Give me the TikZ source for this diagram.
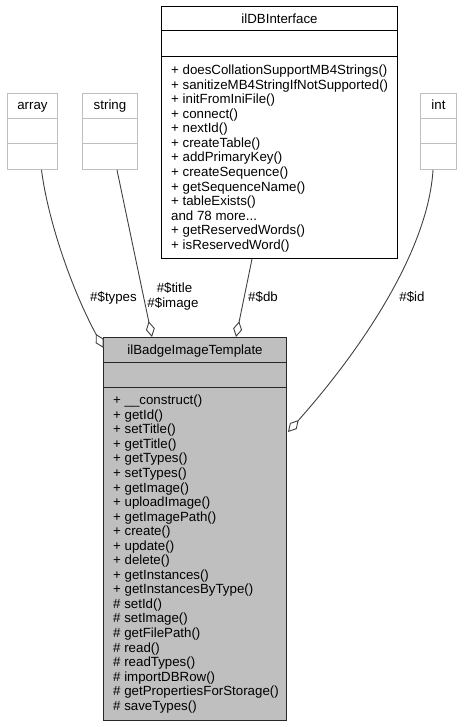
\documentclass[tikz,border=0pt]{standalone}
\usepackage{fontspec}
\setmainfont{Liberation Sans}
\usetikzlibrary{arrows.meta,calc}
\definecolor{edgec}{HTML}{404040}
\definecolor{boxgray}{HTML}{BFBFBF}
\definecolor{mainborder}{HTML}{282828}
\tikzset{
  clsbox/.style={draw=black, fill=white, line width=1pt, inner sep=0pt, anchor=north west},
  undoc/.style={clsbox, draw=boxgray},
  mainbox/.style={clsbox, draw=mainborder, fill=boxgray},
  divline/.style={line width=1pt, draw=black},
  txt/.style={font=\fontsize{13.3}{14.55}\selectfont, inner sep=0pt, text=black},
  lbl/.style={txt},
  assoc/.style={draw=edgec, line width=0.9pt, -{Diamond[open, fill=white, length=16pt, width=9pt]}}
}
\newcommand{\moredots}{and 78 more...}
\begin{document}
\begin{tikzpicture}[x=1pt, y=-1pt]
\useasboundingbox (0,0) rectangle (465,727);

% ---- undocumented type boxes ----
\node[undoc, minimum width=50pt, minimum height=76pt] (arr) at (7,93) {};
\draw[divline, draw=boxgray] ($(arr.north west)+(0,25.5)$) -- ($(arr.north east)+(0,25.5)$);
\draw[divline, draw=boxgray] ($(arr.north west)+(0,51)$) -- ($(arr.north east)+(0,51)$);
\node[txt, anchor=base] (arrT) at ($(arr.north)+(0,17)$) {array};

\node[undoc, minimum width=55pt, minimum height=76pt] (str) at (82,93) {};
\draw[divline, draw=boxgray] ($(str.north west)+(0,25.5)$) -- ($(str.north east)+(0,25.5)$);
\draw[divline, draw=boxgray] ($(str.north west)+(0,51)$) -- ($(str.north east)+(0,51)$);
\node[txt, anchor=base] (strT) at ($(str.north)+(0,17)$) {string};

\node[undoc, minimum width=36pt, minimum height=76pt] (int) at (420,93) {};
\draw[divline, draw=boxgray] ($(int.north west)+(0,25.5)$) -- ($(int.north east)+(0,25.5)$);
\draw[divline, draw=boxgray] ($(int.north west)+(0,51)$) -- ($(int.north east)+(0,51)$);
\node[txt, anchor=base] (intT) at ($(int.north)+(0,17)$) {int};

% ---- ilDBInterface ----
\node[clsbox, minimum width=236pt, minimum height=252pt] (db) at (161,6) {};
\draw[divline] ($(db.north west)+(0,25)$) -- ($(db.north east)+(0,25)$);
\draw[divline] ($(db.north west)+(0,51)$) -- ($(db.north east)+(0,51)$);
\node[txt, anchor=base] (dbT) at ($(db.north)+(0,17.2)$) {ilDBInterface};
\foreach \t [count=\i from 0] in {%
  + doesCollationSupportMB4Strings(),
  + sanitizeMB4StringIfNotSupported(),
  + initFromIniFile(),
  + connect(),
  + nextId(),
  + createTable(),
  + addPrimaryKey(),
  + createSequence(),
  + getSequenceName(),
  + tableExists(),
  \moredots,
  + getReservedWords(),
  + isReservedWord()}
  \node[txt, anchor=base west] (dbm\i) at ($(db.north west)+(10,68.7+14.55*\i)$) {\t};

% ---- ilBadgeImageTemplate ----
\node[mainbox, minimum width=183pt, minimum height=383pt] (main) at (103,337) {};
\draw[divline, draw=mainborder] ($(main.north west)+(0,25)$) -- ($(main.north east)+(0,25)$);
\draw[divline, draw=mainborder] ($(main.north west)+(0,50)$) -- ($(main.north east)+(0,50)$);
\node[txt, anchor=base] (mainT) at ($(main.north)+(0,17.2)$) {ilBadgeImageTemplate};
\foreach \t [count=\i from 0] in {%
  + \_\_construct(),
  + getId(),
  + setTitle(),
  + getTitle(),
  + getTypes(),
  + setTypes(),
  + getImage(),
  + uploadImage(),
  + getImagePath(),
  + create(),
  + update(),
  + delete(),
  + getInstances(),
  + getInstancesByType(),
  \# setId(),
  \# setImage(),
  \# getFilePath(),
  \# read(),
  \# readTypes(),
  \# importDBRow(),
  \# getPropertiesForStorage(),
  \# saveTypes()}
  \node[txt, anchor=base west] (mm\i) at ($(main.north west)+(10,67.7+14.55*\i)$) {\t};

% ---- connection points ----
\coordinate (arrOut) at ($(arr.south west)+(34.5,0)$);
\coordinate (strOut) at ($(str.south west)+(35,0)$);
\coordinate (dbOut)  at ($(db.south west)+(91,0)$);
\coordinate (intOut) at ($(int.south west)+(13,0)$);
\coordinate (inTypes) at ($(main.north west)+(0.5,11)$);
\coordinate (inTitle) at ($(main.north west)+(49,0)$);
\coordinate (inDb)    at ($(main.north west)+(133,0)$);
\coordinate (inId)    at ($(main.north east)+(1,95)$);

% ---- associations ----
\draw[assoc] (arrOut) .. controls +(6.5,51) and +(-31.5,-58) .. (inTypes);
\draw[assoc] (strOut) -- (inTitle);
\draw[assoc] (dbOut) -- (inDb);
\draw[assoc] (intOut) .. controls +(-5,81) and +(73,-82) .. (inId);

% ---- labels ----
\node[lbl, anchor=base] (lTypes) at (113.5,301.7) {\#\$types};
\node[lbl, anchor=base] (lTitle) at (174.5,292.7) {\#\$title};
\node[lbl, anchor=base] (lImage) at (173,307.7) {\#\$image};
\node[lbl, anchor=base] (lDb) at (263,301.7) {\#\$db};
\node[lbl, anchor=base] (lId) at (412,301.7) {\#\$id};
\end{tikzpicture}
\end{document}
